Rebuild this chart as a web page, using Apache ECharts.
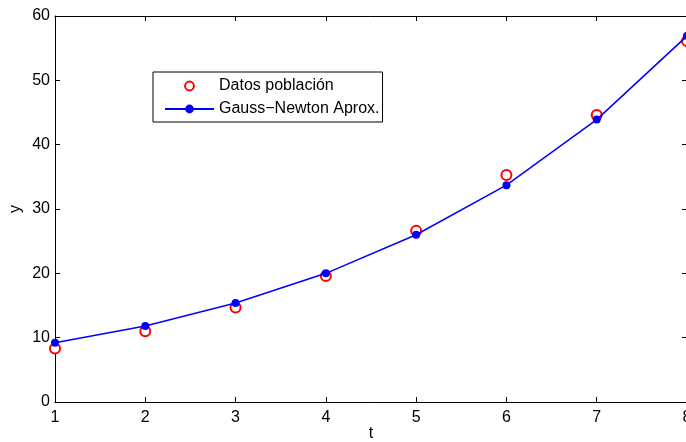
<!DOCTYPE html>
<html>
<head>
<meta charset="utf-8">
<script src="https://cdn.jsdelivr.net/npm/echarts@6/dist/echarts.min.js"></script>
<style>
html,body{margin:0;padding:0;background:#fff;}
#c{width:686px;height:442px;}
</style>
</head>
<body>
<div id="c"></div>
<script>
const tValues = [1, 2, 3, 4, 5, 6, 7, 8];
const datosPoblacion = [8.3, 11.0, 14.7, 19.6, 26.6, 35.3, 44.6, 56.1];
const gaussNewton = [9.2, 11.8, 15.4, 20.0, 26.0, 33.7, 43.9, 56.9];
const seriesNames = ['Datos población', 'Gauss\u2212Newton Aprox.'];
const xLabel = 't';
const yLabel = 'y';

const font = 'Liberation Sans, Arial, Helvetica, sans-serif';
const chart = echarts.init(document.getElementById('c'), null, {renderer: 'canvas'});

const axisCommon = {
  axisLine: {show: true, onZero: false, lineStyle: {color: '#000', width: 1}},
  axisTick: {show: true, inside: true, length: 5, lineStyle: {color: '#000'}},
  splitLine: {show: false},
};

chart.setOption({
  animation: false,
  backgroundColor: '#fff',
  grid: {left: 55, top: 16, width: 632, height: 386, containLabel: false, outerBoundsMode: 'none'},
  xAxis: [
    Object.assign({
      type: 'value', min: 1, max: 8, interval: 1, position: 'bottom',
      name: xLabel, nameLocation: 'middle', nameGap: 24, nameMoveOverlap: false,
      nameTextStyle: {color: '#000', fontSize: 16, fontFamily: font, verticalAlign: 'top', lineHeight: 16},
      axisLabel: {color: '#000', fontSize: 16, fontFamily: font, margin: 8, showMaxLabel: true}
    }, axisCommon),
    Object.assign({
      type: 'value', min: 1, max: 8, interval: 1, position: 'top',
      axisLabel: {show: false}
    }, axisCommon)
  ],
  yAxis: [
    Object.assign({
      type: 'value', min: 0, max: 60, interval: 10, position: 'left',
      name: yLabel, nameLocation: 'middle', nameGap: 31, nameRotate: 90, nameMoveOverlap: false,
      nameTextStyle: {color: '#000', fontSize: 16, fontFamily: font},
      axisLabel: {color: '#000', fontSize: 16, fontFamily: font, margin: 5}
    }, axisCommon),
    Object.assign({
      type: 'value', min: 0, max: 60, interval: 10, position: 'right',
      axisLabel: {show: false}
    }, axisCommon)
  ],
  legend: {
    show: true,
    orient: 'vertical',
    left: 153, top: 72,
    backgroundColor: '#fff',
    borderColor: '#000', borderWidth: 1, borderRadius: 0,
    padding: [5, 3, 4, 11],
    itemWidth: 49, itemHeight: 11, itemGap: 5,
    textStyle: {color: '#000', fontSize: 16, fontFamily: font, lineHeight: 18, padding: [0, 0, 0, 0]},
    data: seriesNames
  },
  series: [
    {
      name: seriesNames[0], type: 'line',
      data: tValues.map((t, i) => [t, datosPoblacion[i]]),
      symbol: 'emptyCircle', symbolSize: 10,
      lineStyle: {width: 0, opacity: 0},
      itemStyle: {color: '#ff0000', borderColor: '#ff0000', borderWidth: 1.5},
      z: 2
    },
    {
      name: seriesNames[1], type: 'line',
      data: tValues.map((t, i) => [t, gaussNewton[i]]),
      symbol: 'circle', symbolSize: 8, showAllSymbol: true,
      lineStyle: {width: 1.5, color: '#0000ff'},
      itemStyle: {color: '#0000ff'},
      z: 3
    }
  ]
});
</script>
</body>
</html>
